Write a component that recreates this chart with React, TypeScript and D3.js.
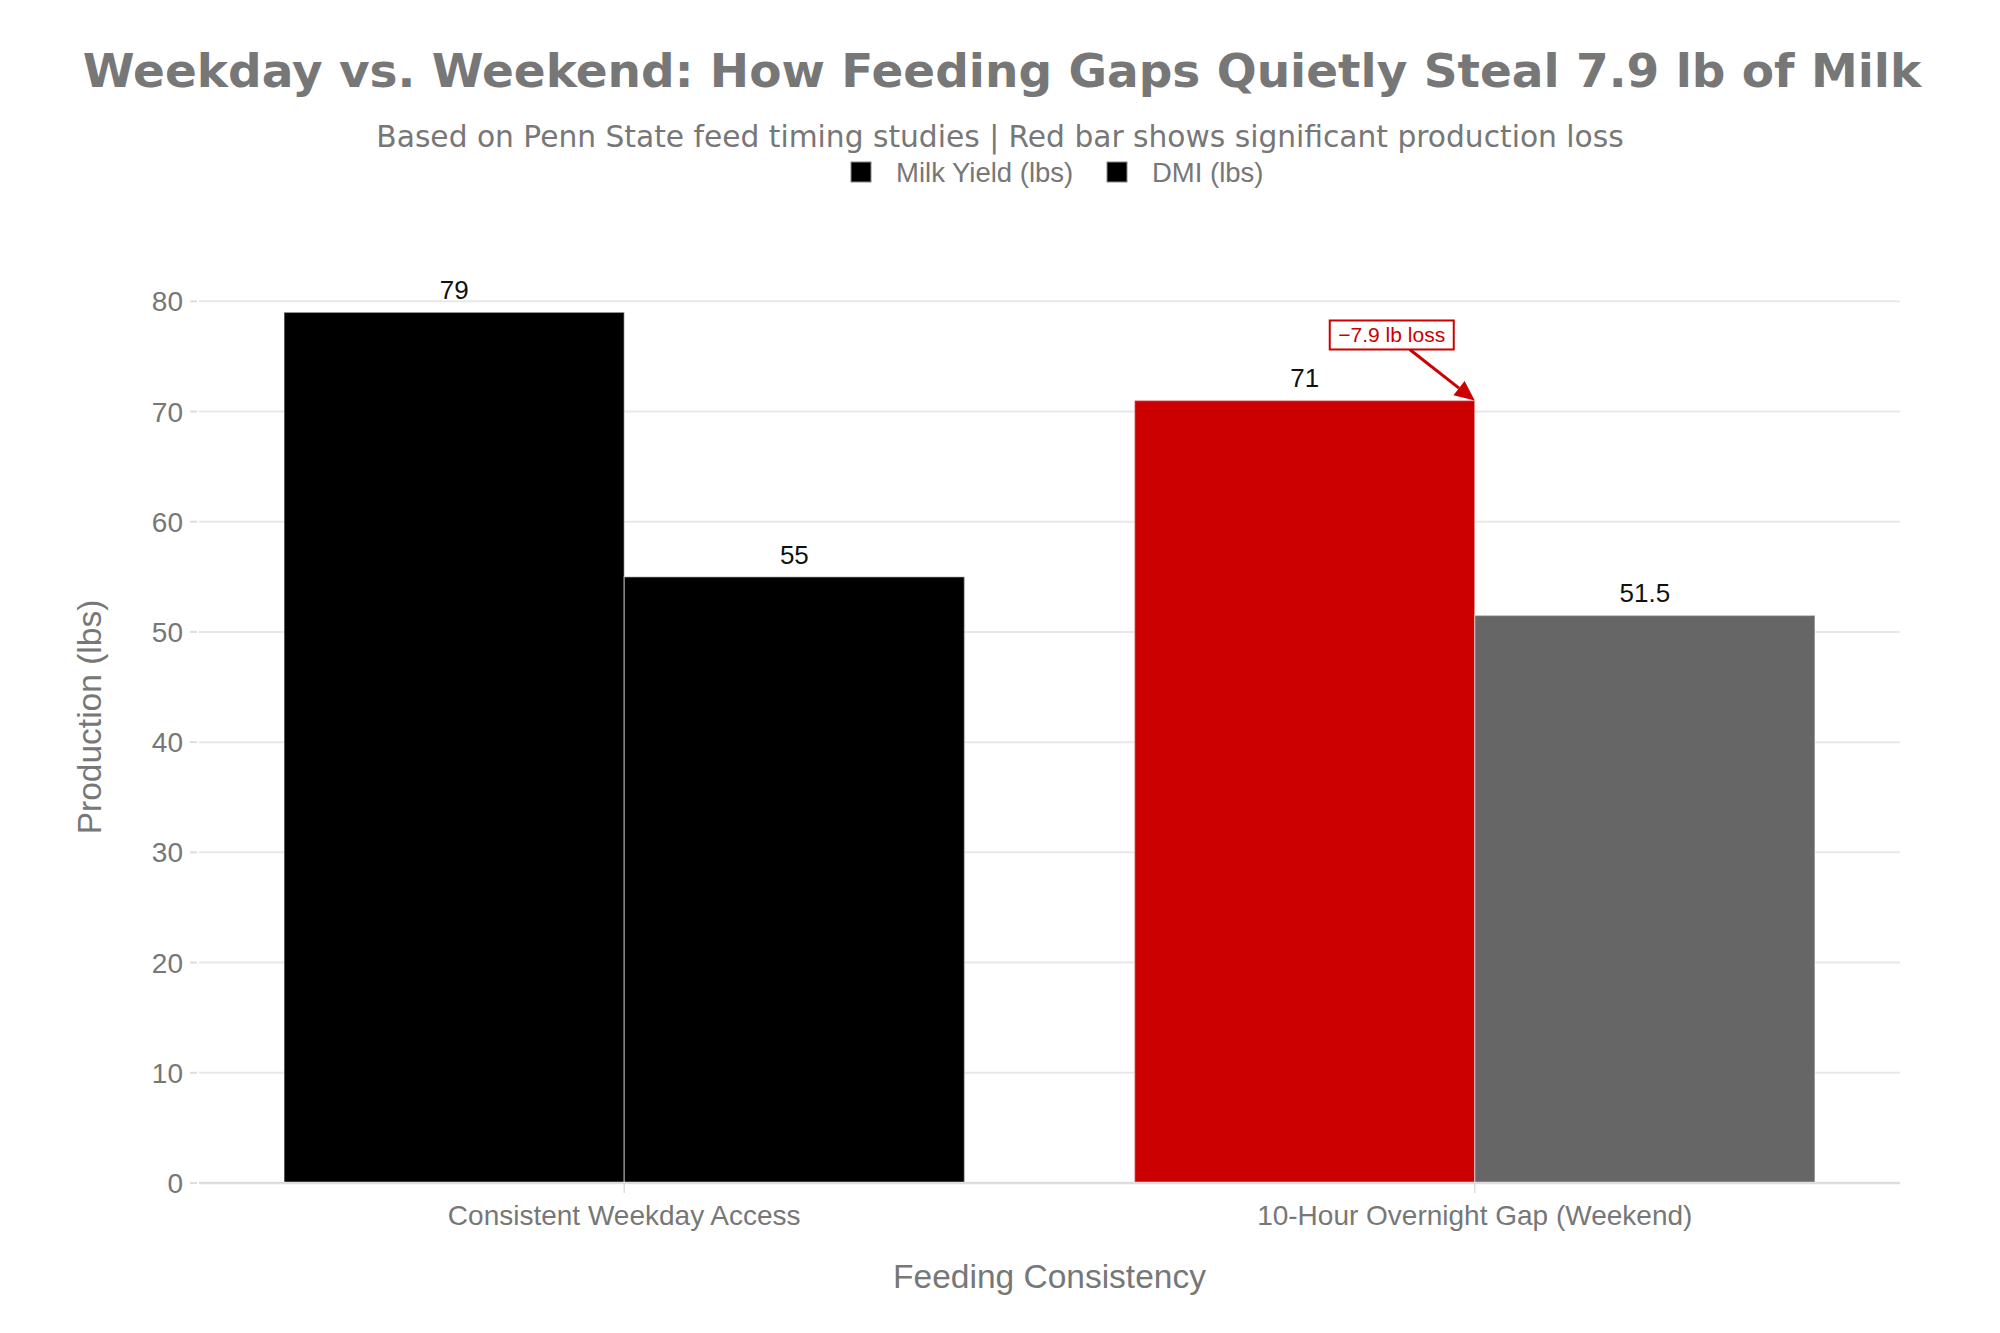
import React from "react";
import * as d3 from "d3";

const categories = ["Consistent Weekday Access", "10-Hour Overnight Gap (Weekend)"];
const seriesNames = ["Milk Yield (lbs)", "DMI (lbs)"];
const milkYield = [79, 71];
const dmiValues = [55, 51.5];
const milkColors = ["#000000", "#cc0000"];
const dmiColors = ["#000000", "#666666"];
const yTicks = [0, 10, 20, 30, 40, 50, 60, 70, 80];
const titleText = "Weekday vs. Weekend: How Feeding Gaps Quietly Steal 7.9 lb of Milk";
const subtitleText = "Based on Penn State feed timing studies | Red bar shows significant production loss";
const annotationText = "\u22127.9 lb loss";

const W = 2000;
const H = 1333;
const plot = { left: 199, right: 1900, top: 255, bottom: 1183 };
const SANS = "'Liberation Sans', Arial, Helvetica, sans-serif";
const DEJAVU = "'DejaVu Sans', Verdana, sans-serif";

export default function App() {
  const x = d3.scaleBand<string>().domain(categories).range([plot.left, plot.right]).paddingInner(0).paddingOuter(0);
  const bw = x.bandwidth();
  const xs = d3.scaleBand<string>().domain(seriesNames).range([0.1 * bw, 0.9 * bw]);
  const y = d3.scaleLinear().domain([0, 84.2]).range([plot.bottom, plot.top]);

  const series = [
    { name: seriesNames[0], values: milkYield, colors: milkColors },
    { name: seriesNames[1], values: dmiValues, colors: dmiColors },
  ];

  const tipX = (x(categories[1]) ?? 0) + (xs(seriesNames[0]) ?? 0) + xs.bandwidth();
  const tipY = y(milkYield[1]);
  const boxCx = tipX - 83;
  const boxCy = tipY - 65.5;
  const boxW = 124;
  const boxH = 29;
  const tailX = boxCx + 18;
  const tailY = boxCy + boxH / 2;
  const ang = Math.atan2(tipY - tailY, tipX - tailX);
  const headLen = 20;
  const headW = 9;
  const baseX = tipX - headLen * Math.cos(ang);
  const baseY = tipY - headLen * Math.sin(ang);
  const px = -Math.sin(ang) * headW;
  const py = Math.cos(ang) * headW;

  return (
    <svg width={W} height={H} style={{ position: "absolute", left: 0, top: 0, background: "#fff" }}>
      <rect x={0} y={0} width={W} height={H} fill="#ffffff" />
      <text x={1002} y={87} textAnchor="middle" fontFamily={DEJAVU} fontWeight="bold" fontSize={47} fill="#777777">
        {titleText}
      </text>
      <text x={1000} y={147} textAnchor="middle" fontFamily={DEJAVU} fontSize={29.7} fill="#777777">
        {subtitleText}
      </text>
      <g>
        <rect x={851} y={162} width={20} height={20} fill="#000" stroke="#888" strokeWidth={1} />
        <text x={896} y={182} fontFamily={SANS} fontSize={27.5} fill="#777777">{seriesNames[0]}</text>
        <rect x={1107} y={162} width={20} height={20} fill="#000" stroke="#888" strokeWidth={1} />
        <text x={1152} y={182} fontFamily={SANS} fontSize={27.5} fill="#777777">{seriesNames[1]}</text>
      </g>
      {yTicks.map((t) => (
        <g key={t}>
          {t !== 0 && (
            <line x1={plot.left} x2={plot.right} y1={y(t)} y2={y(t)} stroke="#e8e8e8" strokeWidth={2} />
          )}
          <line x1={190} x2={197} y1={y(t)} y2={y(t)} stroke="#dddddd" strokeWidth={2} />
          <text x={183} y={y(t) + 10} textAnchor="end" fontFamily={SANS} fontSize={28} fill="#777777">
            {t}
          </text>
        </g>
      ))}
      {series.map((s) => (
        <g key={s.name}>
          {categories.map((c, i) => {
            const bx = (x(c) ?? 0) + (xs(s.name) ?? 0);
            const by = y(s.values[i]);
            return (
              <g key={c}>
                <rect x={bx} y={by} width={xs.bandwidth()} height={plot.bottom - by} fill={s.colors[i]}
                  stroke="rgba(255,255,255,0.38)" strokeWidth={1.5} />
                <text x={bx + xs.bandwidth() / 2} y={by - 13} textAnchor="middle" fontFamily={SANS} fontSize={26} fill="#111111">
                  {s.values[i]}
                </text>
              </g>
            );
          })}
        </g>
      ))}
      <line x1={plot.left} x2={plot.right} y1={plot.bottom} y2={plot.bottom} stroke="#dddddd" strokeWidth={2.5} />
      {categories.map((c) => {
        const cx = (x(c) ?? 0) + bw / 2;
        return (
          <g key={c}>
            <line x1={cx} x2={cx} y1={plot.bottom + 1} y2={plot.bottom + 10} stroke="#dddddd" strokeWidth={1.5} />
            <text x={cx} y={1225} textAnchor="middle" fontFamily={SANS} fontSize={28} fill="#777777">
              {c}
            </text>
          </g>
        );
      })}
      <text x={(plot.left + plot.right) / 2} y={1288} textAnchor="middle" fontFamily={SANS} fontSize={33.5} fill="#777777">
        Feeding Consistency
      </text>
      <text transform={`translate(101, 717) rotate(-90)`} textAnchor="middle" fontFamily={SANS} fontSize={33.5} fill="#777777">
        Production (lbs)
      </text>
      <line x1={tailX} y1={tailY} x2={baseX} y2={baseY} stroke="#cc0000" strokeWidth={3} />
      <path d={`M${tipX},${tipY} L${baseX + px},${baseY + py} L${baseX - px},${baseY - py} Z`} fill="#cc0000" />
      <rect x={boxCx - boxW / 2} y={boxCy - boxH / 2} width={boxW} height={boxH} fill="#ffffff" stroke="#cc0000" strokeWidth={2} />
      <text x={boxCx} y={boxCy + 7.5} textAnchor="middle" fontFamily={SANS} fontSize={21} fill="#cc0000">
        {annotationText}
      </text>
    </svg>
  );
}
